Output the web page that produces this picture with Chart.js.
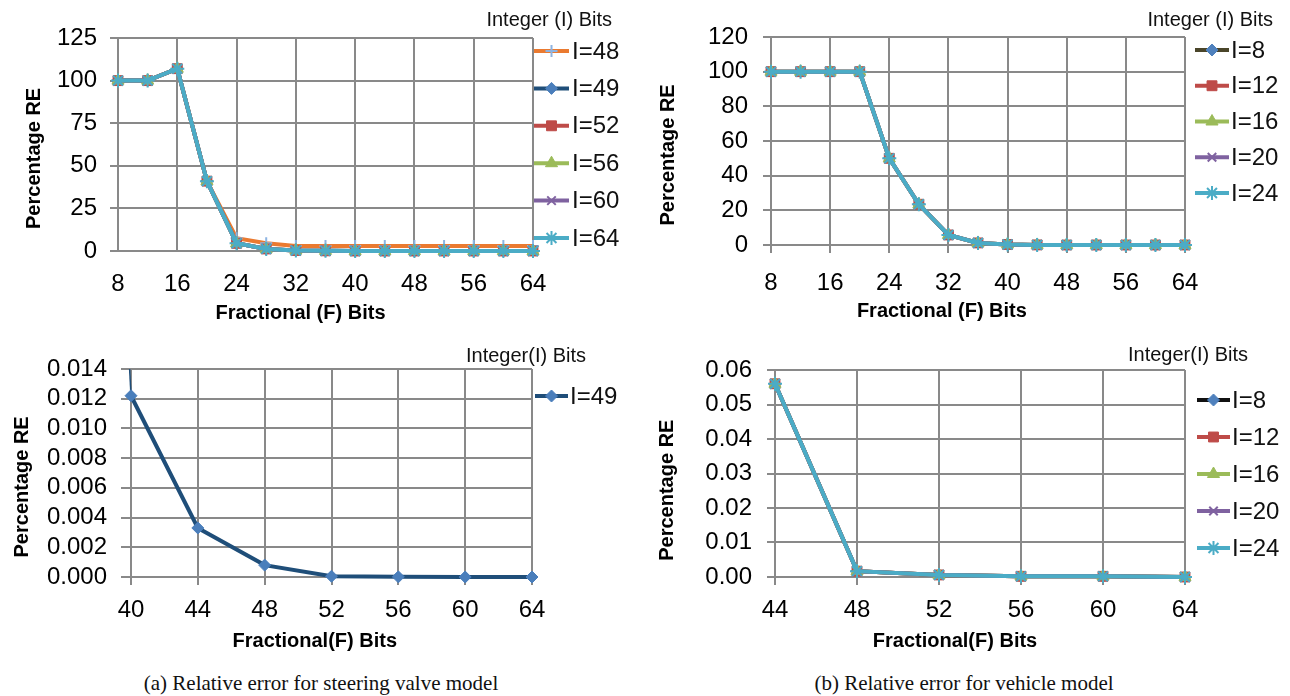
<!DOCTYPE html>
<html><head><meta charset="utf-8">
<script src="https://cdn.jsdelivr.net/npm/chart.js@4.4.1/dist/chart.umd.min.js"></script>
<style>
html,body{margin:0;padding:0;background:#fff;width:1290px;height:696px;overflow:hidden;}
canvas{position:absolute;display:block;}
.cap{position:absolute;font-family:"Liberation Serif","Times New Roman",serif;font-size:21px;line-height:24px;color:#111;white-space:nowrap;transform:translateX(-50%);}
</style></head><body>
<canvas id="c1" width="645" height="335" style="left:0;top:0"></canvas>
<canvas id="c2" width="645" height="335" style="left:645px;top:0"></canvas>
<canvas id="c3" width="645" height="320" style="left:0;top:335px"></canvas>
<canvas id="c4" width="645" height="320" style="left:645px;top:335px"></canvas>
<div class="cap" style="left:321px;top:671px">(a) Relative error for steering valve model</div>
<div class="cap" style="left:964px;top:671px">(b) Relative error for vehicle model</div>
<script>
// ---------------- DATA ----------------
// (a) steering valve model: Fractional bits vs percentage RE, per integer bit width
const FRAC_A = [8,12,16,20,24,28,32,36,40,44,48,52,56,60,64];
const A_I48 = [100,100,107,41,7.5,4.5,3,3,3,3,3,3,3,3,3];
const A_I49 = [100,100,107,41,4.5,1.2,0.3,0.1,0.0122,0.0033,0.0008,0.00005,0.00001,0,0];
const A_I52 = [100,100,107,41,4.5,1.2,0.3,0.1,0,0,0,0,0,0,0];
const A_I56 = [100,100,107,41,4.5,1.2,0.3,0.1,0,0,0,0,0,0,0];
const A_I60 = [100,100,107,41,4.5,1.2,0.3,0.1,0,0,0,0,0,0,0];
const A_I64 = [100,100,107,41,4.5,1.2,0.3,0.1,0,0,0,0,0,0,0];
// (b) vehicle model
const FRAC_B = [8,12,16,20,24,28,32,36,40,44,48,52,56,60,64];
const B_I8  = [100,100,100,100,50,23.5,5.8,1.2,0.3,0.056,0.0017,0.0006,0.0002,0.0002,0];
const B_I12 = [100,100,100,100,50,23.5,5.8,1.2,0.3,0.056,0.0017,0.0006,0.0002,0.0002,0];
const B_I16 = [100,100,100,100,50,23.5,5.8,1.2,0.3,0.056,0.0017,0.0006,0.0002,0.0002,0];
const B_I20 = [100,100,100,100,50,23.5,5.8,1.2,0.3,0.056,0.0017,0.0006,0.0002,0.0002,0];
const B_I24 = [100,100,100,100,50,23.5,5.8,1.2,0.3,0.056,0.0017,0.0006,0.0002,0.0002,0];
// zoomed vehicle panel starts at F=44
const B_ZOOM_START = 44;
// tick settings
const TICKS_TL = {min:0, max:125, step:25, dec:0, xmin:8, xmax:64, xstep:8};
const TICKS_TR = {min:0, max:120, step:20, dec:0, xmin:8, xmax:64, xstep:8};
const TICKS_BL = {min:0, max:0.014, step:0.002, dec:3, xmin:40, xmax:64, xstep:4};
const TICKS_BR = {min:0, max:0.06, step:0.01, dec:2, xmin:44, xmax:64, xstep:4};

// ---------------- STYLE ----------------
const FONT = '"Liberation Sans", Arial, Helvetica, sans-serif';
Chart.defaults.font.family = FONT;
Chart.defaults.color = '#000';
const GRID = '#898989';
const TICK_SIZE = 24, TITLE_SIZE = 20;

const ST = {
  I48:{line:'#EA7A30', marker:'#8DB4E2', style:'cross', r:6, bw:2},
  I49:{line:'#1F4E79', marker:'#4A7EBB', style:'rectRot', r:6, bw:1},
  red:{line:'#BE4B48', marker:'#BE4B48', style:'rect', r:7, bw:1},
  green:{line:'#9BBB59', marker:'#9BBB59', style:'triangle', r:7, bw:1},
  purple:{line:'#7F62A0', marker:'#7F62A0', style:'crossRot', r:6, bw:2},
  teal:{line:'#4BACC6', marker:'#4BACC6', style:'star', r:7, bw:2},
  olive:{line:'#4A452A', marker:'#4F81BD', style:'rectRot', r:6, bw:1},
  black:{line:'#111111', marker:'#4F81BD', style:'rectRot', r:6, bw:1}
};

function spacer(text, font, shift){
  const c = document.createElement('canvas').getContext('2d');
  c.font = font;
  const sw = c.measureText(' ').width;
  const n = Math.round(Math.abs(shift)*2/sw);
  const pad = ' '.repeat(n);
  return shift < 0 ? text + pad : pad + text;
}

function drawMarker(ctx, st, x, y){
  ctx.fillStyle = st.marker; ctx.strokeStyle = st.marker; ctx.lineWidth = st.bw;
  if (Chart.helpers && Chart.helpers.drawPoint) {
    Chart.helpers.drawPoint(ctx, {pointStyle: st.style, radius: st.r, rotation: 0, borderWidth: st.bw}, x, y);
    return;
  }
  ctx.beginPath(); ctx.arc(x, y, st.r*0.7, 0, Math.PI*2); ctx.fill();
}

const sideLegend = {
  id: 'sideLegend',
  afterDraw(chart, args, o){
    const ctx = chart.ctx;
    ctx.save();
    ctx.textBaseline = 'middle';
    ctx.fillStyle = '#111';
    ctx.font = o.titleSize + 'px ' + FONT;
    ctx.textAlign = 'right';
    ctx.fillText(o.title, o.titleRight, o.titleY);
    chart.data.datasets.forEach((ds, i) => {
      const y = o.y0 + i*o.dy;
      ctx.strokeStyle = ds.borderColor; ctx.lineWidth = 4; ctx.lineCap = 'butt';
      ctx.beginPath(); ctx.moveTo(o.x, y); ctx.lineTo(o.x + o.len, y); ctx.stroke();
      drawMarker(ctx, ds._st, o.x + o.len/2, y);
      ctx.fillStyle = '#111';
      ctx.font = o.size + 'px ' + FONT;
      ctx.textAlign = 'left';
      ctx.fillText(ds.label, o.x + o.len + o.gap, y + 1);
    });
    ctx.restore();
  }
};

function makeChart(id, P){
  const n = P.series.length;
  const datasets = P.series.map((s, i) => ({
    label: s.label,
    data: P.xs.map((x, k) => ({x: x, y: s.values[k]})),
    _st: s.st,
    borderColor: s.st.line,
    backgroundColor: s.st.marker,
    pointBackgroundColor: s.st.marker,
    pointBorderColor: s.st.marker,
    pointStyle: s.st.style,
    pointRadius: s.st.r,
    pointBorderWidth: s.st.bw,
    pointHoverRadius: s.st.r,
    borderWidth: 4,
    tension: 0,
    order: n - 1 - i,
    clip: P.clip,
    segment: { borderWidth: c => (c.p0.parsed.x < P.t.xmin ? 1.5 : 4) }
  }));
  const titleFont = {size: TITLE_SIZE, weight: 'bold', lineHeight: 1.2};
  const tf = 'bold ' + TITLE_SIZE + 'px ' + FONT;
  return new Chart(document.getElementById(id), {
    type: 'line',
    data: {datasets: datasets},
    plugins: [sideLegend],
    options: {
      responsive: false,
      animation: false,
      events: [],
      layout: {padding: P.pad},
      plugins: {
        legend: {display: false},
        tooltip: {enabled: false},
        sideLegend: P.legend
      },
      scales: {
        x: {
          type: 'linear', min: P.t.xmin, max: P.t.xmax,
          afterFit: s => { s.height = P.xH; },
          grid: {color: GRID, lineWidth: 2, drawTicks: P.xTicks, tickLength: 8, tickColor: GRID},
          border: {display: true, color: GRID, width: 2},
          ticks: {stepSize: P.t.xstep, font: {size: TICK_SIZE}, padding: P.xTickPad, maxRotation: 0, autoSkip: false, color: '#000'},
          title: {display: true, text: spacer(P.xTitle, tf, P.xShift), font: titleFont, color: '#000', padding: {top: 0, bottom: P.xTitlePad}}
        },
        y: {
          type: 'linear', min: P.t.min, max: P.t.max,
          afterFit: s => { s.width = P.yW; },
          grid: {color: GRID, lineWidth: 2, drawTicks: true, tickLength: P.yTickLen, tickColor: GRID},
          border: {display: true, color: GRID, width: 2},
          ticks: {stepSize: P.t.step, font: {size: TICK_SIZE}, padding: P.yTickPad, color: '#000', autoSkip: false,
                  callback: v => Number(v).toFixed(P.t.dec)},
          title: {display: true, text: spacer('Percentage RE', tf, P.yShift), font: titleFont, color: '#000', padding: {top: P.yTitlePad, bottom: 0}}
        }
      }
    }
  });
}

// (a) top: all integer widths
makeChart('c1', {
  xs: FRAC_A, t: TICKS_TL, clip: false,
  series: [
    {label:'I=48', values:A_I48, st:ST.I48},
    {label:'I=49', values:A_I49, st:ST.I49},
    {label:'I=52', values:A_I52, st:ST.red},
    {label:'I=56', values:A_I56, st:ST.green},
    {label:'I=60', values:A_I60, st:ST.purple},
    {label:'I=64', values:A_I64, st:ST.teal}
  ],
  pad: {left:0, top:38, right:112, bottom:0}, yW:118, xH:84,
  yTickPad:13, yTickLen:8, yTitlePad:22, xTicks:false, xTickPad:19, xTitlePad:10,
  xTitle:'Fractional (F) Bits', xShift:-24, yShift:-15,
  legend: {title:'Integer (I) Bits', titleSize:20, titleRight:612, titleY:20, x:534, len:35, gap:3, y0:51, dy:37.4, size:24}
});

// (b) top
makeChart('c2', {
  xs: FRAC_B, t: TICKS_TR, clip: false,
  series: [
    {label:'I=8', values:B_I8, st:ST.olive},
    {label:'I=12', values:B_I12, st:ST.red},
    {label:'I=16', values:B_I16, st:ST.green},
    {label:'I=20', values:B_I20, st:ST.purple},
    {label:'I=24', values:B_I24, st:ST.teal}
  ],
  pad: {left:0, top:37, right:105, bottom:0}, yW:126, xH:90,
  yTickPad:15, yTickLen:8, yTitlePad:11, xTicks:true, xTickPad:16, xTitlePad:12,
  xTitle:'Fractional (F) Bits', xShift:-35, yShift:-15,
  legend: {title:'Integer (I) Bits', titleSize:20, titleRight:628, titleY:20, x:550, len:34, gap:2, y0:50, dy:35.75, size:24}
});

// (a) bottom: zoom on I=49
makeChart('c3', {
  xs: FRAC_A, t: TICKS_BL, clip: {left:10, top:0, right:10, bottom:10},
  series: [
    {label:'I=49', values:A_I49, st:ST.I49}
  ],
  pad: {left:0, top:34, right:113, bottom:0}, yW:131, xH:78,
  yTickPad:14, yTickLen:10, yTitlePad:10, xTicks:true, xTickPad:11, xTitlePad:2,
  xTitle:'Fractional(F) Bits', xShift:-16, yShift:-14,
  legend: {title:'Integer(I) Bits', titleSize:20, titleRight:586, titleY:21, x:535, len:33, gap:2, y0:61, dy:37, size:24}
});

// (b) bottom: zoom from F=44
const kz = FRAC_B.indexOf(B_ZOOM_START);
makeChart('c4', {
  xs: FRAC_B.slice(kz), t: TICKS_BR, clip: false,
  series: [
    {label:'I=8', values:B_I8.slice(kz), st:ST.black},
    {label:'I=12', values:B_I12.slice(kz), st:ST.red},
    {label:'I=16', values:B_I16.slice(kz), st:ST.green},
    {label:'I=20', values:B_I20.slice(kz), st:ST.purple},
    {label:'I=24', values:B_I24.slice(kz), st:ST.teal}
  ],
  pad: {left:0, top:35, right:105, bottom:0}, yW:130, xH:78,
  yTickPad:15, yTickLen:8, yTitlePad:10, xTicks:true, xTickPad:11, xTitlePad:2,
  xTitle:'Fractional(F) Bits', xShift:-24, yShift:-17,
  legend: {title:'Integer(I) Bits', titleSize:20, titleRight:603, titleY:20, x:552, len:33, gap:2, y0:65, dy:37, size:24}
});
</script>
</body></html>
